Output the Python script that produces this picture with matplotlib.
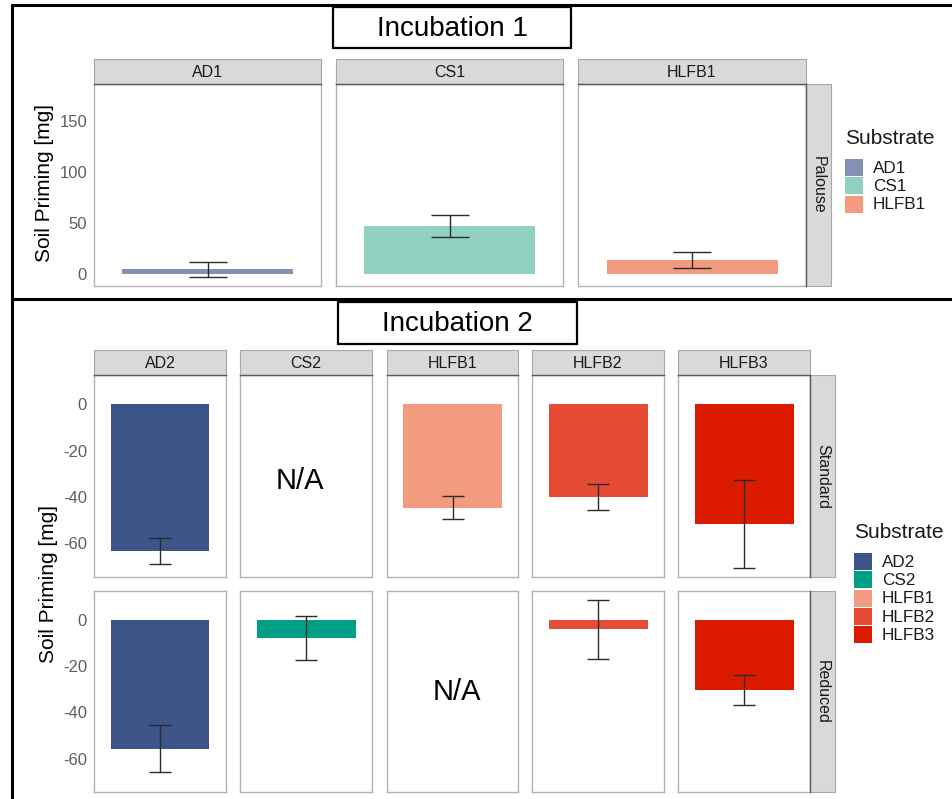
import numpy as np
import matplotlib
matplotlib.use("Agg")
import matplotlib.pyplot as plt
from matplotlib.patches import Rectangle

plt.rcParams['font.family'] = ['Liberation Sans', 'DejaVu Sans']
plt.rcParams['axes.unicode_minus'] = False

# ---- data -------------------------------------------------------------
inc1_substrates = ["AD1", "CS1", "HLFB1"]
inc1_mean = [4.3, 47.0, 13.6]
inc1_err = [7.2, 10.5, 8.2]
inc1_colors = ["#8491B4", "#91D1C2", "#F39B7F"]
inc1_yticks = [0, 50, 100, 150]

inc2_substrates = ["AD2", "CS2", "HLFB1", "HLFB2", "HLFB3"]
inc2_treatments = ["Standard", "Reduced"]
inc2_standard_mean = [-63.4, np.nan, -44.5, -40.0, -51.7]
inc2_standard_err = [5.7, np.nan, 4.8, 5.7, 18.9]
inc2_reduced_mean = [-55.7, -7.8, np.nan, -4.0, -30.2]
inc2_reduced_err = [10.2, 9.5, np.nan, 12.7, 6.6]
inc2_colors = ["#3C5488", "#00A087", "#F39B7F", "#E64B35", "#DC1A00"]
inc2_yticks = [0, -20, -40, -60]

# ---- figure -----------------------------------------------------------
W, H, DPI = 952, 799, 100
fig = plt.figure(figsize=(W / DPI, H / DPI), dpi=DPI)
fig.patch.set_facecolor("white")

STRIP_FILL = "#D9D9D9"
STRIP_EDGE = "#A8A8A8"
STRIP_DARK = "#5A5A5A"
PANEL_EDGE = "#B3B3B3"
TICK_COLOR = "#5E5E5E"
TEXT_DARK = "#1A1A1A"


def px_axes(x0, y0, x1, y1, **kw):
    return fig.add_axes([x0 / W, 1 - y1 / H, (x1 - x0) / W, (y1 - y0) / H], **kw)


# overlay in pixel coordinates for frames, strips, titles and legends
ov = px_axes(0, 0, W, H, zorder=5)
ov.set_xlim(0, W)
ov.set_ylim(H, 0)
ov.axis("off")
ov.patch.set_alpha(0)


def draw_panel(ax, mean, err, color, ylim, yticks, show_y):
    ax.set_xlim(0.4, 1.6)
    ax.set_ylim(*ylim)
    if not np.isnan(mean):
        ax.bar([1], [mean], width=0.9, color=color, zorder=2)
        bbox = ax.get_position()
        panel_px = bbox.width * W
        cap_pt = panel_px * (0.1 / 1.2) * 72 / DPI
        ax.errorbar([1], [mean], yerr=[err], fmt="none", ecolor="#2B2B2B",
                    elinewidth=1.0, capsize=cap_pt, capthick=1.0, zorder=3)
    ax.set_xticks([])
    ax.set_yticks(yticks)
    ax.tick_params(axis="y", length=0, pad=5, labelsize=12, labelcolor=TICK_COLOR)
    if not show_y:
        ax.set_yticklabels([])
    for s in ax.spines.values():
        s.set_color(PANEL_EDGE)
        s.set_linewidth(1.0)


def top_strip(x0, x1, y0, y1, label):
    ov.add_patch(Rectangle((x0, y0), x1 - x0, y1 - y0, facecolor=STRIP_FILL,
                           edgecolor=STRIP_EDGE, linewidth=0.8))
    ov.plot([x0, x1], [y1, y1], color=STRIP_DARK, linewidth=1.0)
    ov.text((x0 + x1) / 2, (y0 + y1) / 2 + 1, label, ha="center", va="center",
            fontsize=11.5, color=TEXT_DARK)


def right_strip(x0, x1, y0, y1, label):
    ov.add_patch(Rectangle((x0, y0), x1 - x0, y1 - y0, facecolor=STRIP_FILL,
                           edgecolor=STRIP_EDGE, linewidth=0.8))
    ov.plot([x0, x0], [y0, y1], color=STRIP_DARK, linewidth=1.0)
    ov.text((x0 + x1) / 2, (y0 + y1) / 2, label, ha="center", va="center",
            rotation=270, fontsize=11.5, color=TEXT_DARK)


def legend(x, y_title, y_keys, labels, colors):
    ov.text(x, y_title, "Substrate", ha="left", va="center", fontsize=15,
            color=TEXT_DARK)
    key_h = 18.3
    for i, (lab, col) in enumerate(zip(labels, colors)):
        ky = y_keys + i * key_h
        ov.add_patch(Rectangle((x, ky), 17.5, key_h - 1.2, facecolor=col,
                               edgecolor="none"))
        ov.text(x + 28, ky + key_h / 2, lab, ha="left", va="center",
                fontsize=12.3, color=TEXT_DARK)


# ---- Incubation 1 -----------------------------------------------------
inc1_cols = [(94, 321), (336, 563), (578, 806)]
inc1_rows = (84, 286)
for i, (x0, x1) in enumerate(inc1_cols):
    ax = px_axes(x0, inc1_rows[0], x1, inc1_rows[1])
    draw_panel(ax, inc1_mean[i], inc1_err[i], inc1_colors[i], (-12, 186),
               inc1_yticks, i == 0)
    top_strip(x0, x1, 59, 84, inc1_substrates[i])
right_strip(806, 831, 84, 286, "Palouse")
ov.text(45, 183, "Soil Priming [mg]", rotation=90, ha="center", va="center",
        fontsize=15, color="black")
legend(845, 138, 159, inc1_substrates, inc1_colors)

# ---- Incubation 2 -----------------------------------------------------
inc2_cols = [(94, 226), (240, 372), (387, 518), (532, 664), (678, 810)]
inc2_rows = [(375, 577), (591, 792)]
inc2_means = [inc2_standard_mean, inc2_reduced_mean]
inc2_errs = [inc2_standard_err, inc2_reduced_err]
for r, (y0, y1) in enumerate(inc2_rows):
    for c, (x0, x1) in enumerate(inc2_cols):
        ax = px_axes(x0, y0, x1, y1)
        draw_panel(ax, inc2_means[r][c], inc2_errs[r][c], inc2_colors[c],
                   (-74.5, 12.7), inc2_yticks, c == 0)
        if np.isnan(inc2_means[r][c]):
            xf = 0.45 if r == 0 else 0.53
            yf = 0.475 if r == 0 else 0.5
            ax.text(xf, yf, "N/A", transform=ax.transAxes, ha="center",
                    va="center", fontsize=21, color="black")
    right_strip(810, 835, y0, y1, inc2_treatments[r])
for c, (x0, x1) in enumerate(inc2_cols):
    top_strip(x0, x1, 350, 375, inc2_substrates[c])
ov.text(49, 584, "Soil Priming [mg]", rotation=90, ha="center", va="center",
        fontsize=15, color="black")
legend(854, 533, 553, inc2_substrates, inc2_colors)

# ---- frames and titles ------------------------------------------------
lw = 2.2
ov.plot([11, W], [5, 5], color="black", linewidth=lw, solid_capstyle="butt")
ov.plot([12, 12], [4, H], color="black", linewidth=lw, solid_capstyle="butt")
ov.plot([11, W], [299, 299], color="black", linewidth=lw, solid_capstyle="butt")

for (x0, y0, x1, y1, txt) in [(333, 7, 571, 48, "Incubation 1"),
                              (338, 302, 577, 344, "Incubation 2")]:
    ov.add_patch(Rectangle((x0, y0), x1 - x0, y1 - y0, facecolor="white",
                           edgecolor="black", linewidth=1.6))
    ov.text((x0 + x1) / 2, (y0 + y1) / 2 + 1, txt, ha="center", va="center",
            fontsize=20, color="black")

fig.savefig("out.png", dpi=DPI)
